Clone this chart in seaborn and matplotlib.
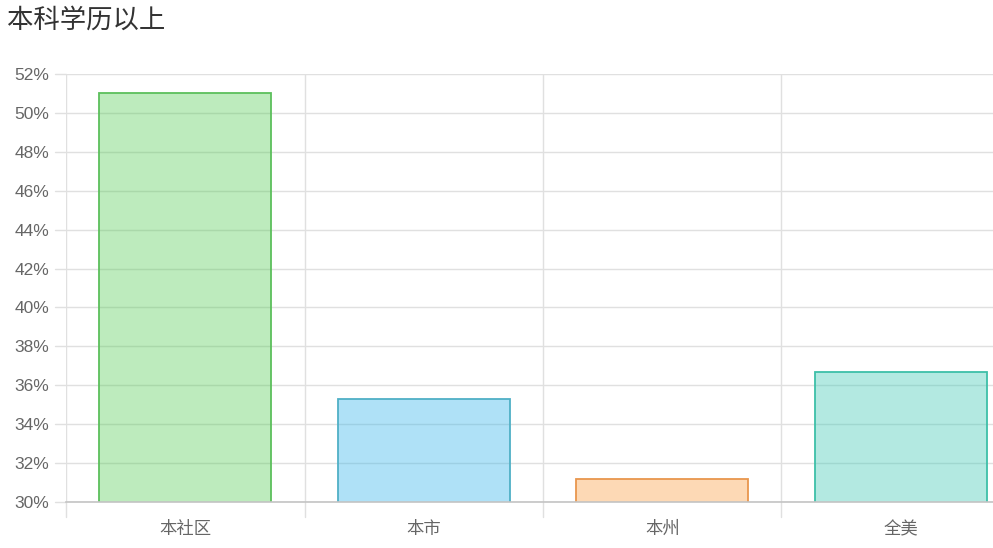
import matplotlib
matplotlib.use('Agg')
import matplotlib.pyplot as plt
import matplotlib.ticker as ticker
import seaborn as sns
import pandas as pd

categories = ['本社区', '本市', '本州', '全美']
values = [51.0, 35.3, 31.2, 36.7]
fill_colors = ['#5acd5a', '#39b6eb', '#faa046', '#41cab6']
edge_colors = ['#5cbf5c', '#4fb0c6', '#e8964d', '#3dbfa8']
title = '本科学历以上'

sns.set_theme(style='white')
plt.rcParams['font.family'] = ['Noto Sans CJK SC', 'DejaVu Sans']

df = pd.DataFrame({'cat': categories, 'val': values})

fig = plt.figure(figsize=(9.93, 5.48), dpi=100)
ax = fig.add_axes([66 / 993, 1 - 502 / 548, (1020 - 66) / 993, (502 - 74) / 548])

sns.barplot(data=df, x='cat', y='val', hue='cat', palette=fill_colors,
            saturation=1, width=0.72, legend=False, ax=ax, zorder=2)

# bars are see-through with a solid outline
for patch, ec in zip(ax.patches, edge_colors):
    fc = patch.get_facecolor()
    patch.set_facecolor((fc[0], fc[1], fc[2], 0.4))
    patch.set_edgecolor(ec)
    patch.set_linewidth(1.3)

ax.set_ylim(30, 52)
ax.set_xlim(-0.5, 3.5)
ax.yaxis.set_major_locator(ticker.MultipleLocator(2))
ax.yaxis.set_major_formatter(ticker.FuncFormatter(lambda v, p: f'{v:.0f}%'))

# horizontal grid + category boundary lines
ax.grid(axis='y', color='#e0e0e0', linewidth=1, zorder=0)
for b in [-0.5, 0.5, 1.5, 2.5]:
    ax.axvline(b, color='#e0e0e0', linewidth=1, zorder=0)
    ax.plot([b, b], [0, -0.035], transform=ax.get_xaxis_transform(),
            color='#e0e0e0', linewidth=1, clip_on=False)
for y in range(30, 53, 2):
    ax.plot([-0.012, 0], [y, y], transform=ax.get_yaxis_transform(),
            color='#e0e0e0', linewidth=1, clip_on=False)

for s in ['top', 'right', 'left']:
    ax.spines[s].set_visible(False)
ax.spines['bottom'].set_color('#c4c4c4')
ax.spines['bottom'].set_linewidth(1.2)
ax.spines['bottom'].set_zorder(3)

ax.set_xlabel('')
ax.set_ylabel('')
ax.tick_params(axis='both', length=0, labelsize=12.5, colors='#666666')
ax.tick_params(axis='x', pad=13)
ax.tick_params(axis='y', pad=12)
for lbl in ax.get_yticklabels():
    lbl.set_family(['Liberation Sans', 'DejaVu Sans'])

fig.text(7 / 993, 1 - 20 / 548, title, fontsize=19, color='#333333',
         va='center', ha='left')

fig.savefig('out.png', dpi=100)
